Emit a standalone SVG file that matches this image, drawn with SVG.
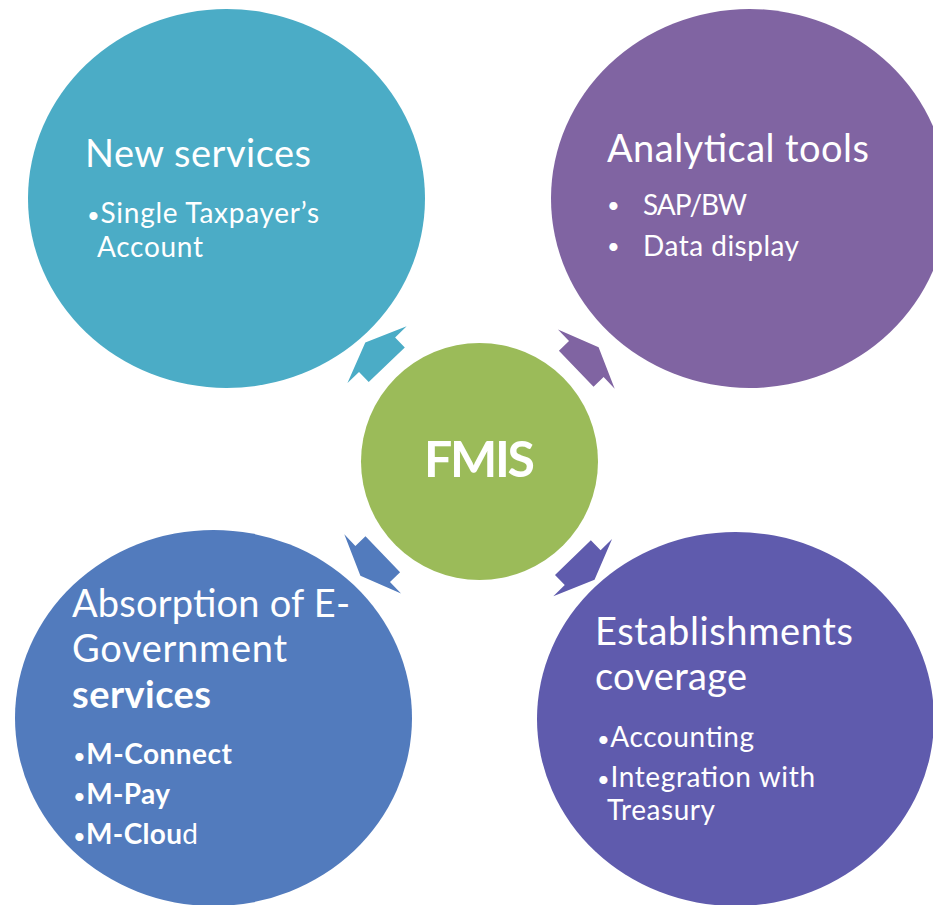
<svg xmlns="http://www.w3.org/2000/svg" width="933" height="905" viewBox="0 0 933 905">
<style>
text{font-family:Lato,"Open Sans","Liberation Sans",sans-serif;fill:#ffffff}
.t{font-size:38px}
.b{font-size:28px}
.bold{font-weight:bold}
.d{font-size:22px;font-weight:normal}
</style>
<defs>
<polygon id="arr" points="134,-25 148,-25 148,-41 165,0 148,41 148,25 134,25"/>
</defs>
<rect width="933" height="905" fill="#ffffff"/>
<g id="connectors">
<use href="#arr" transform="translate(479.5,461.5) rotate(-133.8)" fill="#4BACC6"/>
<use href="#arr" transform="translate(479.5,461.5) rotate(-43.8)" fill="#8064A2"/>
<use href="#arr" transform="translate(479.5,461.5) rotate(136.2)" fill="#527BBD"/>
<use href="#arr" transform="translate(479.5,461.5) rotate(45.8)" fill="#5F5BAD"/>
</g>
<g id="new-services">
<ellipse cx="226.5" cy="198.5" rx="198.5" ry="189.5" fill="#4BACC6"/>
<text class="t" x="85" y="167" textLength="226">New services</text>
<text class="b" x="87" y="223" textLength="232"><tspan class="d">•</tspan>Single Taxpayer’s</text>
<text class="b" x="97" y="257" textLength="106">Account</text>
</g>
<g id="analytical-tools">
<ellipse cx="749.5" cy="198.5" rx="198.5" ry="189.5" fill="#8064A2"/>
<text class="t" x="607" y="162" textLength="262">Analytical tools</text>
<text class="d" x="607" y="213">•</text>
<text class="b" x="643" y="215" textLength="104">SAP/BW</text>
<text class="d" x="607" y="254">•</text>
<text class="b" x="643" y="256" textLength="156">Data display</text>
</g>
<g id="e-government">
<ellipse cx="213.5" cy="718" rx="198.5" ry="188" fill="#527BBD"/>
<text class="t" x="72" y="617" textLength="278">Absorption of E-</text>
<text class="t" x="72" y="662" textLength="215">Government</text>
<text class="t bold" x="72" y="708" textLength="139">services</text>
<text class="b bold" x="73" y="764" textLength="159"><tspan class="d">•</tspan>M-Connect</text>
<text class="b bold" x="73" y="804" textLength="97"><tspan class="d">•</tspan>M-Pay</text>
<text class="b" x="73" y="844" textLength="125"><tspan class="d">•</tspan><tspan class="bold">M-Clou</tspan>d</text>
</g>
<g id="establishments">
<ellipse cx="735.5" cy="719" rx="198.5" ry="187" fill="#5F5BAD"/>
<text class="t" x="595" y="645" textLength="258">Establishments</text>
<text class="t" x="595" y="690" textLength="152">coverage</text>
<text class="b" x="597" y="747" textLength="157"><tspan class="d">•</tspan>Accounting</text>
<text class="b" x="597" y="787" textLength="218"><tspan class="d">•</tspan>Integration with</text>
<text class="b" x="607" y="820" textLength="108">Treasury</text>
</g>
<g id="fmis">
<circle cx="479.5" cy="461.5" r="118.5" fill="#9BBB59"/>
<text class="bold" x="479.5" y="477" font-size="50" text-anchor="middle" textLength="111">FMIS</text>
</g>
</svg>
